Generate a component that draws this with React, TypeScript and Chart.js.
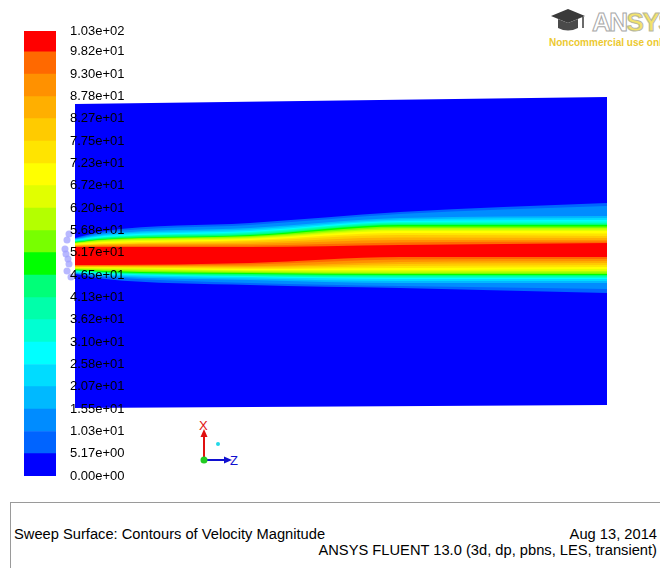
import React, { useEffect, useRef } from "react";
import { Chart, registerables } from "chart.js";
Chart.register(...registerables);

// ---------- colour-bar data ----------
const levelValues = [0, 5.17, 10.3, 15.5, 20.7, 25.8, 31.0, 36.2, 41.3, 46.5, 51.7, 56.8, 62.0, 67.2, 72.3, 77.5, 82.7, 87.8, 93.0, 98.2, 103];
const levelLabels = [
  "0.00e+00", "5.17e+00", "1.03e+01", "1.55e+01", "2.07e+01", "2.58e+01", "3.10e+01",
  "3.62e+01", "4.13e+01", "4.65e+01", "5.17e+01", "5.68e+01", "6.20e+01", "6.72e+01",
  "7.23e+01", "7.75e+01", "8.27e+01", "8.78e+01", "9.30e+01", "9.82e+01", "1.03e+02",
];
const bandColors = [
  "rgb(0,0,255)", "rgb(0,100,255)", "rgb(0,140,255)", "rgb(0,185,255)", "rgb(0,220,255)",
  "rgb(0,255,255)", "rgb(0,255,210)", "rgb(0,255,170)", "rgb(0,255,120)", "rgb(0,255,0)",
  "rgb(120,255,0)", "rgb(180,255,0)", "rgb(225,255,0)", "rgb(255,255,0)", "rgb(255,228,0)",
  "rgb(255,203,0)", "rgb(255,175,0)", "rgb(255,145,0)", "rgb(255,105,0)", "rgb(255,0,0)",
];

// ---------- contour data (axial station, depth from top of view) ----------
const stationZ = [0, 30, 175, 325, 532];
// domain outline (depth of top / bottom walls at first and last station)
const domainZ = [0, 532];
const domainTop = [7, 0];
const domainBottom = [311, 308];
// upper edge of each contour level 1..19 (5.17 ... 98.2), per station
const upperS0 = [141, 141.5, 142, 142.5, 143, 143.5, 144, 144.5, 145, 145.5, 146, 146.5, 147, 147.5, 148, 148.5, 149, 149.5, 150];
const upperS1 = [134, 135.5, 137, 138, 139, 140, 140.5, 141, 142, 142.5, 143, 144, 145, 146, 147, 147.5, 148, 149, 150];
const upperS2 = [126, 128, 131, 132.5, 134, 135, 136, 137, 138, 139, 140, 141, 142, 143, 144, 145.5, 147, 148.5, 150];
const upperS3 = [115, 117, 121, 122.5, 124, 125, 126, 127, 128, 129.5, 131, 132.5, 134, 136, 138, 140.5, 143, 145.5, 148];
const upperS4 = [106, 109, 119, 121, 123, 124.5, 126, 127, 128, 129.5, 131, 132.5, 134, 136.5, 139, 141, 143, 144.5, 146];
// lower edge of each contour level 1..19, per station
const lowerS0 = [177, 176.5, 176, 175.5, 175, 174.5, 174, 173.5, 173, 172.5, 172, 171.5, 171, 170.5, 170, 169.5, 169, 168.5, 168];
const lowerS1 = [182, 180, 179, 178, 177, 176.5, 176, 175.5, 175, 174, 173, 172, 171, 170.5, 170, 169.5, 169, 168.5, 168];
const lowerS2 = [188, 186, 183, 181.5, 180, 179.5, 179, 178, 177, 176, 175, 174, 173, 172, 171, 170, 169, 167.5, 166];
const lowerS3 = [191, 189, 186, 184, 182, 181, 180, 179, 178, 177, 176, 174.5, 173, 171, 169, 167, 165, 162.5, 160];
const lowerS4 = [196, 192, 186, 184, 182, 181, 180, 179, 178, 177, 175.5, 174, 172, 170, 168, 166, 164, 162, 160];
// nozzle outline seen at the inlet (axial, depth)
const nozzleZ = [-6, -8, -10, -9, -7, -6, -8, -4];
const nozzleDepth = [137, 143, 152, 157, 162, 167, 174, 180];

const upperStations = [upperS0, upperS1, upperS2, upperS3, upperS4];
const lowerStations = [lowerS0, lowerS1, lowerS2, lowerS3, lowerS4];

const FONT = "'Liberation Sans', Arial, Helvetica, sans-serif";

function ContourChart() {
  const ref = useRef<HTMLCanvasElement>(null);
  useEffect(() => {
    const datasets: any[] = [];
    datasets.push({
      type: "scatter",
      data: nozzleZ.map((z, i) => ({ x: z, y: nozzleDepth[i] })),
      pointRadius: 3.5,
      pointBorderWidth: 0,
      backgroundColor: "rgba(160,160,255,0.75)",
      showLine: false,
    });
    const lineBase = {
      borderWidth: 0,
      pointRadius: 0,
      tension: 0.35,
      cubicInterpolationMode: "monotone",
    };
    for (let k = 19; k >= 1; k--) {
      const color = bandColors[k];
      datasets.push({
        ...lineBase,
        data: stationZ.map((z, i) => ({ x: z, y: upperStations[i][k - 1] })),
        backgroundColor: color,
        borderColor: color,
        fill: "+1",
      });
      datasets.push({
        ...lineBase,
        data: stationZ.map((z, i) => ({ x: z, y: lowerStations[i][k - 1] })),
        backgroundColor: color,
        borderColor: color,
        fill: false,
      });
    }
    datasets.push({
      borderWidth: 0,
      pointRadius: 0,
      data: domainZ.map((z, i) => ({ x: z, y: domainTop[i] })),
      backgroundColor: bandColors[0],
      borderColor: bandColors[0],
      fill: "+1",
    });
    datasets.push({
      borderWidth: 0,
      pointRadius: 0,
      data: domainZ.map((z, i) => ({ x: z, y: domainBottom[i] })),
      backgroundColor: bandColors[0],
      borderColor: bandColors[0],
      fill: false,
    });
    const chart = new Chart(ref.current!, {
      type: "line",
      data: { datasets },
      options: {
        responsive: false,
        animation: false,
        layout: { padding: 0, autoPadding: false },
        plugins: { legend: { display: false }, tooltip: { enabled: false }, filler: { drawTime: "beforeDatasetDraw" } as any },
        scales: {
          x: { type: "linear", display: false, min: -15, max: 532 },
          y: { type: "linear", display: false, min: 0, max: 311, reverse: true },
        },
      },
    });
    return () => chart.destroy();
  }, []);
  return (
    <canvas
      ref={ref}
      width={547}
      height={311}
      style={{ position: "absolute", left: 60, top: 97, width: 547, height: 311, zIndex: 1 }}
    />
  );
}

function ColorBar() {
  const ref = useRef<HTMLCanvasElement>(null);
  useEffect(() => {
    const datasets = bandColors.map((c, i) => ({
      data: [levelValues[i + 1] - levelValues[i]],
      backgroundColor: c,
      borderWidth: 0,
      stack: "bar",
      barPercentage: 1,
      categoryPercentage: 1,
    }));
    const chart = new Chart(ref.current!, {
      type: "bar",
      data: { labels: [""], datasets },
      options: {
        responsive: false,
        animation: false,
        layout: { padding: { top: 12, bottom: 12, left: 0, right: 0 } },
        plugins: { legend: { display: false }, tooltip: { enabled: false } },
        scales: {
          x: { display: false, stacked: true },
          y: {
            stacked: true,
            position: "right",
            min: 0,
            max: 103,
            grid: { display: false, drawTicks: false },
            border: { display: false },
            afterBuildTicks: (s: any) => {
              s.ticks = levelValues.map((v) => ({ value: v }));
            },
            afterFit: (s: any) => {
              s.width = 80;
              s.paddingTop = 0;
              s.paddingBottom = 0;
            },
            ticks: {
              padding: 14,
              autoSkip: false,
              color: "#000",
              font: { family: FONT, size: 13 },
              callback: (_v: any, i: number) => levelLabels[i],
            },
          },
        },
      },
    });
    return () => chart.destroy();
  }, []);
  return (
    <canvas
      ref={ref}
      width={112}
      height={469}
      style={{ position: "absolute", left: 24, top: 19, width: 112, height: 469, zIndex: 2 }}
    />
  );
}

export default function App() {
  return (
    <div
      style={{
        position: "fixed",
        left: 0,
        top: 0,
        width: 660,
        height: 568,
        background: "#fff",
        overflow: "hidden",
        fontFamily: FONT,
      }}
    >
      <ContourChart />
      <ColorBar />

      {/* logo */}
      <svg style={{ position: "absolute", left: 549, top: 6, zIndex: 3 }} width={40} height={30}>
        <polygon points="2,10 19,3 36,10 19,17" fill="#3a3a3a" />
        <path d="M9,13 L9,22 Q19,27 29,22 L29,13 L19,17 Z" fill="#4a4a4a" />
        <line x1="34" y1="11" x2="34" y2="22" stroke="#3a3a3a" strokeWidth="1.5" />
      </svg>
      <div
        style={{
          position: "absolute",
          left: 592,
          top: 7,
          fontSize: 26,
          fontWeight: "bold",
          letterSpacing: -1.5,
          zIndex: 3,
          whiteSpace: "nowrap",
        }}
      >
        <span style={{ color: "#fff", WebkitTextStroke: "1px #a8a8a8" } as any}>AN</span>
        <span style={{ color: "#f3e36a", WebkitTextStroke: "1px #b8b8a0" } as any}>SYS</span>
      </div>
      <div
        style={{
          position: "absolute",
          left: 549,
          top: 37,
          fontSize: 10,
          fontWeight: "bold",
          color: "#ecc930",
          whiteSpace: "nowrap",
          zIndex: 3,
        }}
      >
        Noncommercial use only
      </div>

      {/* axis triad */}
      <svg style={{ position: "absolute", left: 190, top: 412, zIndex: 3 }} width={60} height={60}>
        <line x1="14" y1="48" x2="14" y2="22" stroke="#e01010" strokeWidth="2" />
        <polygon points="14,17 10.5,25 17.5,25" fill="#e01010" />
        <text x="9" y="18" fontSize="13" fill="#e01010" fontFamily="Liberation Sans, Arial">X</text>
        <line x1="14" y1="48" x2="37" y2="48" stroke="#1010d0" strokeWidth="2" />
        <polygon points="42,48 34,44.5 34,51.5" fill="#1010d0" />
        <text x="40" y="53" fontSize="13" fill="#1010d0" fontFamily="Liberation Sans, Arial">Z</text>
        <circle cx="14" cy="48" r="3.5" fill="#22cc22" />
        <circle cx="28" cy="32" r="2" fill="#22d8e8" />
      </svg>

      {/* footer */}
      <div
        style={{
          position: "absolute",
          left: 10,
          top: 502,
          width: 700,
          height: 120,
          border: "1px solid #9a9a9a",
          boxSizing: "border-box",
        }}
      />
      <div style={{ position: "absolute", left: 14, top: 526, fontSize: 14.7, color: "#000", whiteSpace: "nowrap" }}>
        Sweep Surface: Contours of Velocity Magnitude
      </div>
      <div style={{ position: "absolute", right: 3, top: 526, fontSize: 14.7, color: "#000", whiteSpace: "nowrap" }}>
        Aug 13, 2014
      </div>
      <div style={{ position: "absolute", right: 3, top: 542, fontSize: 14.7, color: "#000", whiteSpace: "nowrap" }}>
        ANSYS FLUENT 13.0 (3d, dp, pbns, LES, transient)
      </div>
    </div>
  );
}
